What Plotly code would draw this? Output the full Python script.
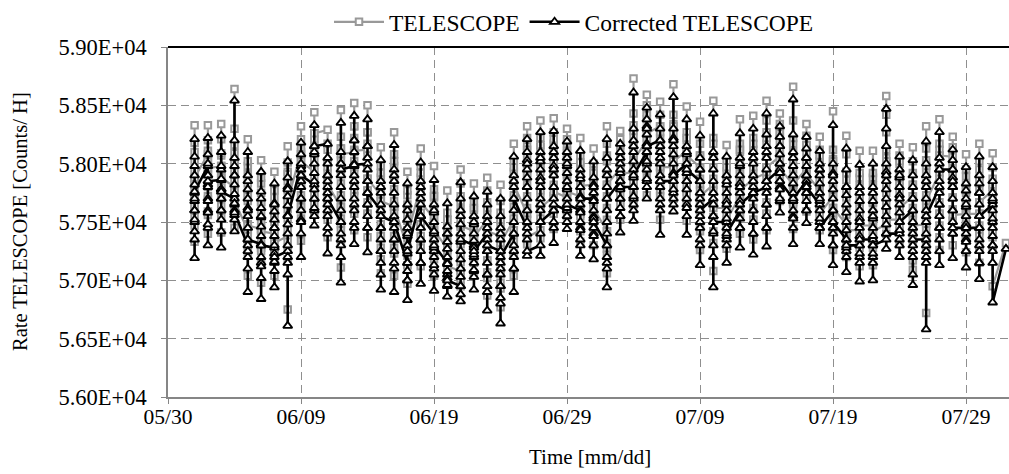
import plotly.graph_objects as go
import pandas as pd

# ---- data: hourly readings grouped per day (Excel-style date axis puts all hours of a day on that day) ----
DAYS = [d.strftime("%Y-%m-%d") for d in pd.date_range("2024-06-01", "2024-08-01")]

TELESCOPE = [
    [57870, 57800, 57720, 57620, 57540, 57330, 57470, 57640, 57720, 57820, 57940, 58020, 58180, 58330, 58100, 57880],
    [58080, 58010, 57930, 57820, 57720, 57560, 57400, 57590, 57690, 57800, 57910, 58020, 58200, 58330, 58110, 57960],
    [57980, 57900, 57810, 57720, 57640, 57410, 57540, 57710, 57800, 57890, 57980, 58070, 58210, 58340, 58090, 57880],
    [57800, 57750, 57700, 57610, 57450, 57660, 57760, 57850, 57930, 58010, 58090, 58160, 58640, 58300, 58000, 57680],
    [57430, 57330, 57040, 57240, 57380, 57480, 57580, 57680, 57750, 57830, 57910, 57980, 58210, 58020, 57720, 57470],
    [57440, 57280, 56980, 57150, 57250, 57330, 57430, 57510, 57590, 57670, 57750, 57830, 58030, 57880, 57670, 57420],
    [57400, 57270, 57040, 57190, 57270, 57350, 57420, 57500, 57570, 57640, 57710, 57780, 57930, 57770, 57570, 57320],
    [57380, 57280, 57180, 56750, 57330, 57430, 57530, 57610, 57690, 57770, 57850, 57930, 58010, 58150, 57910, 57680],
    [58100, 57970, 57820, 57640, 57340, 57530, 57630, 57730, 57830, 57930, 58030, 58130, 58210, 58320, 58080, 58020],
    [57930, 57810, 57710, 57580, 57660, 57730, 57810, 57890, 57960, 58030, 58110, 58190, 58260, 58440, 58210, 58260],
    [58290, 58120, 58020, 57920, 57820, 57720, 57520, 57370, 57570, 57670, 57770, 57870, 57970, 58170, 58020, 57820],
    [57630, 57480, 57330, 57110, 57430, 57530, 57630, 57730, 57830, 57930, 58030, 58130, 58230, 58460, 58130, 58080],
    [58100, 57970, 57770, 57570, 57430, 57620, 57720, 57820, 57920, 58020, 58120, 58220, 58320, 58520, 58320, 58110],
    [58120, 57970, 57770, 57570, 57370, 57570, 57670, 57770, 57870, 57970, 58070, 58170, 58270, 58500, 58270, 57870],
    [57730, 57580, 57380, 57180, 57060, 57280, 57380, 57480, 57580, 57680, 57780, 57880, 57980, 58140, 57920, 57680],
    [57630, 57480, 57280, 57040, 57230, 57380, 57480, 57580, 57680, 57780, 57880, 57980, 58080, 58270, 58020, 57630],
    [57280, 57130, 56970, 57130, 57210, 57280, 57360, 57430, 57510, 57580, 57650, 57730, 57930, 57770, 57520, 57380],
    [57820, 57670, 57470, 57280, 57120, 57280, 57380, 57480, 57580, 57680, 57780, 57880, 57980, 58130, 57920, 57670],
    [57530, 57380, 57230, 57040, 57180, 57260, 57330, 57410, 57480, 57550, 57630, 57710, 57780, 57980, 57720, 57430],
    [57270, 57170, 57070, 56980, 57080, 57140, 57200, 57260, 57320, 57390, 57450, 57520, 57580, 57770, 57520, 57120],
    [57080, 57010, 56950, 57080, 57160, 57230, 57310, 57380, 57460, 57530, 57610, 57680, 57830, 57950, 57720, 57470],
    [57420, 57320, 57200, 57040, 57150, 57210, 57270, 57340, 57400, 57460, 57520, 57600, 57670, 57830, 57620, 57370],
    [57520, 57370, 57170, 57020, 56870, 57070, 57170, 57270, 57370, 57470, 57570, 57670, 57770, 57880, 57620, 57420],
    [57380, 57230, 57080, 56930, 56770, 56980, 57080, 57180, 57280, 57380, 57480, 57580, 57680, 57820, 57520, 57320],
    [57520, 57370, 57220, 57040, 57230, 57330, 57430, 57530, 57630, 57730, 57830, 57930, 58020, 58170, 57970, 57820],
    [57570, 57470, 57310, 57520, 57620, 57720, 57820, 57920, 58000, 58070, 58150, 58220, 58320, 58120, 57920, 57370],
    [57430, 57360, 57530, 57630, 57730, 57830, 57930, 58000, 58070, 58140, 58220, 58370, 58160, 57960, 57770, 57620],
    [57720, 57570, 57440, 57620, 57720, 57820, 57920, 58020, 58100, 58170, 58270, 58390, 58210, 58060, 57910, 57760],
    [57710, 57610, 57550, 57660, 57730, 57810, 57890, 57960, 58030, 58090, 58160, 58210, 58300, 58110, 57910, 57760],
    [57720, 57570, 57420, 57330, 57470, 57550, 57620, 57700, 57770, 57840, 57920, 57990, 58070, 58220, 58010, 57810],
    [57820, 57670, 57520, 57300, 57420, 57500, 57570, 57650, 57720, 57800, 57870, 57940, 58000, 58130, 57920, 57620],
    [57420, 57270, 57060, 57220, 57320, 57420, 57520, 57620, 57720, 57820, 57920, 58020, 58170, 58320, 58070, 57820],
    [57960, 57810, 57660, 57520, 57660, 57730, 57810, 57890, 57960, 58030, 58110, 58160, 58210, 58280, 58060, 57910],
    [57930, 57830, 57730, 57650, 57780, 57850, 57930, 58010, 58080, 58150, 58230, 58330, 58430, 58730, 58280, 58030],
    [58200, 58100, 57950, 57730, 57880, 57960, 58050, 58130, 58220, 58300, 58380, 58440, 58500, 58590, 58420, 58260],
    [58320, 58170, 57970, 57770, 57520, 57720, 57820, 57920, 58020, 58120, 58220, 58320, 58420, 58530, 58270, 57970],
    [57970, 57870, 57770, 57700, 57820, 57900, 57970, 58040, 58120, 58200, 58270, 58340, 58420, 58680, 58320, 58020],
    [58110, 57960, 57760, 57510, 57670, 57740, 57820, 57900, 57970, 58040, 58120, 58200, 58270, 58490, 58220, 58070],
    [57970, 57820, 57620, 57420, 57260, 57470, 57570, 57670, 57770, 57870, 57970, 58070, 58170, 58360, 58070, 57720],
    [57820, 57670, 57520, 57320, 57080, 57420, 57540, 57670, 57770, 57870, 57970, 58070, 58220, 58540, 58170, 57620],
    [57620, 57470, 57270, 57420, 57500, 57570, 57650, 57720, 57800, 57870, 57940, 58020, 58160, 57970, 57770, 57520],
    [57720, 57570, 57400, 57570, 57650, 57720, 57800, 57870, 57950, 58020, 58100, 58170, 58380, 58120, 57920, 57770],
    [57870, 57720, 57520, 57350, 57520, 57620, 57720, 57820, 57920, 58020, 58120, 58220, 58410, 58170, 57970, 57870],
    [57920, 57770, 57570, 57430, 57570, 57670, 57770, 57870, 57970, 58070, 58170, 58270, 58370, 58540, 58220, 57970],
    [58060, 57910, 57790, 57680, 57810, 57890, 57960, 58030, 58110, 58190, 58260, 58340, 58430, 58260, 58110, 57960],
    [57820, 57670, 57440, 57570, 57650, 57720, 57800, 57870, 57950, 58020, 58100, 58170, 58370, 58660, 58220, 57820],
    [57960, 57860, 57710, 57590, 57710, 57790, 57860, 57930, 58010, 58090, 58160, 58240, 58340, 58160, 58010, 57910],
    [57770, 57620, 57430, 57570, 57650, 57720, 57800, 57870, 57950, 58020, 58070, 58120, 58230, 58070, 57820, 57570],
    [57720, 57570, 57420, 57260, 57420, 57520, 57620, 57720, 57820, 57900, 57970, 58040, 58120, 58450, 58020, 57620],
    [57480, 57380, 57200, 57330, 57410, 57480, 57560, 57630, 57710, 57780, 57860, 57930, 58080, 58240, 57920, 57430],
    [57430, 57330, 57120, 57280, 57360, 57430, 57510, 57580, 57660, 57730, 57810, 57880, 58110, 57920, 57620, 57470],
    [57470, 57320, 57130, 57280, 57360, 57430, 57510, 57580, 57660, 57730, 57810, 57880, 58110, 57920, 57670, 57420],
    [57480, 57400, 57520, 57600, 57670, 57750, 57820, 57900, 57970, 58050, 58120, 58270, 58420, 58580, 58020, 57520],
    [57520, 57420, 57310, 57470, 57550, 57620, 57700, 57770, 57850, 57920, 58000, 58070, 58170, 58020, 57820, 57620],
    [57720, 57570, 57370, 57170, 57090, 57320, 57420, 57520, 57620, 57720, 57820, 57920, 58020, 58140, 57820, 57470],
    [57480, 57380, 57280, 56720, 57330, 57430, 57530, 57630, 57730, 57830, 57930, 58030, 58130, 58320, 57980, 57680],
    [57920, 57770, 57570, 57370, 57260, 57470, 57570, 57670, 57770, 57870, 57970, 58070, 58170, 58380, 58120, 58070],
    [58060, 57910, 57710, 57510, 57300, 57510, 57610, 57710, 57810, 57910, 57990, 58060, 58140, 58230, 57960, 57560],
    [57570, 57470, 57370, 57240, 57370, 57450, 57520, 57600, 57670, 57750, 57820, 57890, 57950, 58080, 57770, 57570],
    [57570, 57420, 57270, 57150, 57280, 57380, 57470, 57570, 57670, 57770, 57870, 57950, 58020, 58170, 57870, 57670],
    [57770, 57620, 57420, 57270, 57420, 57500, 57570, 57650, 57720, 57800, 57870, 57970, 58090, 57820, 57370, 56950],
    [57320],
]

CORRECTED = [
    [57750, 57680, 57600, 57500, 57420, 57190, 57350, 57520, 57600, 57700, 57820, 57900, 58060, 58210, 57980, 57760],
    [57980, 57900, 57820, 57700, 57600, 57450, 57300, 57480, 57580, 57680, 57800, 57900, 58080, 58220, 58000, 57850],
    [57860, 57780, 57700, 57600, 57520, 57280, 57420, 57600, 57700, 57780, 57870, 57950, 58100, 58240, 57980, 57760],
    [57700, 57650, 57600, 57520, 57420, 57560, 57660, 57740, 57820, 57900, 57980, 58050, 58540, 58200, 57900, 57580],
    [57300, 57200, 56900, 57100, 57250, 57350, 57450, 57550, 57620, 57700, 57780, 57850, 58100, 57900, 57600, 57350],
    [57310, 57150, 56840, 57020, 57120, 57200, 57300, 57380, 57460, 57540, 57620, 57700, 57930, 57760, 57550, 57300],
    [57280, 57150, 56940, 57080, 57160, 57230, 57300, 57380, 57450, 57520, 57590, 57660, 57830, 57650, 57450, 57200],
    [57250, 57150, 57050, 56610, 57200, 57300, 57400, 57480, 57560, 57640, 57720, 57800, 57880, 58020, 57780, 57550],
    [57980, 57850, 57700, 57520, 57200, 57400, 57500, 57600, 57700, 57800, 57900, 58000, 58080, 58180, 57950, 57900],
    [57820, 57700, 57600, 57470, 57550, 57620, 57700, 57780, 57850, 57920, 58000, 58080, 58150, 58330, 58100, 58150],
    [58170, 58000, 57900, 57800, 57700, 57600, 57400, 57230, 57450, 57550, 57650, 57750, 57850, 58050, 57900, 57700],
    [57500, 57350, 57200, 56980, 57300, 57400, 57500, 57600, 57700, 57800, 57900, 58000, 58100, 58350, 58000, 57950],
    [57980, 57850, 57650, 57450, 57310, 57500, 57600, 57700, 57800, 57900, 58000, 58100, 58200, 58410, 58200, 57990],
    [58000, 57850, 57650, 57450, 57240, 57450, 57550, 57650, 57750, 57850, 57950, 58050, 58150, 58380, 58150, 57750],
    [57600, 57450, 57250, 57050, 56920, 57150, 57250, 57350, 57450, 57550, 57650, 57750, 57850, 58030, 57800, 57550],
    [57500, 57350, 57150, 56900, 57100, 57250, 57350, 57450, 57550, 57650, 57750, 57850, 57950, 58160, 57900, 57500],
    [57150, 57000, 56830, 57000, 57080, 57150, 57230, 57300, 57380, 57450, 57520, 57600, 57830, 57650, 57400, 57250],
    [57700, 57550, 57350, 57150, 56970, 57150, 57250, 57350, 57450, 57550, 57650, 57750, 57850, 58010, 57800, 57550],
    [57400, 57250, 57100, 56910, 57050, 57130, 57200, 57280, 57350, 57420, 57500, 57580, 57650, 57860, 57600, 57300],
    [57150, 57050, 56950, 56860, 56960, 57020, 57080, 57140, 57200, 57270, 57330, 57400, 57460, 57660, 57400, 57000],
    [56950, 56880, 56820, 56950, 57030, 57100, 57180, 57250, 57330, 57400, 57480, 57550, 57700, 57840, 57600, 57350],
    [57300, 57200, 57080, 56920, 57030, 57090, 57150, 57220, 57280, 57340, 57400, 57480, 57550, 57720, 57500, 57250],
    [57400, 57250, 57050, 56900, 56740, 56950, 57050, 57150, 57250, 57350, 57450, 57550, 57650, 57760, 57500, 57300],
    [57250, 57100, 56950, 56800, 56630, 56850, 56950, 57050, 57150, 57250, 57350, 57450, 57550, 57700, 57400, 57200],
    [57400, 57250, 57100, 56900, 57100, 57200, 57300, 57400, 57500, 57600, 57700, 57800, 57900, 58060, 57850, 57700],
    [57450, 57350, 57210, 57400, 57500, 57600, 57700, 57800, 57880, 57950, 58030, 58100, 58210, 58000, 57800, 57250],
    [57300, 57210, 57400, 57500, 57600, 57700, 57800, 57880, 57950, 58020, 58100, 58270, 58050, 57850, 57650, 57500],
    [57600, 57450, 57320, 57500, 57600, 57700, 57800, 57900, 57980, 58050, 58150, 58280, 58100, 57950, 57800, 57650],
    [57600, 57500, 57440, 57550, 57620, 57700, 57780, 57850, 57920, 57980, 58050, 58100, 58190, 58000, 57800, 57650],
    [57600, 57450, 57300, 57210, 57350, 57430, 57500, 57580, 57650, 57720, 57800, 57870, 57950, 58110, 57900, 57700],
    [57700, 57550, 57400, 57180, 57300, 57380, 57450, 57530, 57600, 57680, 57750, 57820, 57880, 58020, 57800, 57500],
    [57300, 57150, 56940, 57100, 57200, 57300, 57400, 57500, 57600, 57700, 57800, 57900, 58050, 58210, 57950, 57700],
    [57850, 57700, 57550, 57410, 57550, 57620, 57700, 57780, 57850, 57920, 58000, 58050, 58100, 58170, 57950, 57800],
    [57800, 57700, 57600, 57510, 57650, 57720, 57800, 57880, 57950, 58020, 58100, 58200, 58300, 58610, 58150, 57900],
    [58100, 58000, 57850, 57700, 57800, 57870, 57950, 58020, 58100, 58170, 58250, 58320, 58380, 58480, 58300, 58150],
    [58200, 58050, 57850, 57650, 57390, 57600, 57700, 57800, 57900, 58000, 58100, 58200, 58300, 58420, 58150, 57850],
    [57850, 57750, 57650, 57590, 57700, 57780, 57850, 57920, 58000, 58080, 58150, 58220, 58300, 58570, 58200, 57900],
    [58000, 57850, 57650, 57390, 57550, 57620, 57700, 57780, 57850, 57920, 58000, 58080, 58150, 58380, 58100, 57950],
    [57850, 57700, 57500, 57300, 57130, 57350, 57450, 57550, 57650, 57750, 57850, 57950, 58050, 58240, 57950, 57600],
    [57700, 57550, 57400, 57200, 56940, 57300, 57420, 57550, 57650, 57750, 57850, 57950, 58100, 58430, 58050, 57500],
    [57500, 57350, 57150, 57300, 57380, 57450, 57530, 57600, 57680, 57750, 57820, 57900, 58060, 57850, 57650, 57400],
    [57600, 57450, 57280, 57450, 57530, 57600, 57680, 57750, 57830, 57900, 57980, 58050, 58260, 58000, 57800, 57650],
    [57750, 57600, 57400, 57220, 57400, 57500, 57600, 57700, 57800, 57900, 58000, 58100, 58300, 58050, 57850, 57750],
    [57800, 57650, 57450, 57290, 57450, 57550, 57650, 57750, 57850, 57950, 58050, 58150, 58250, 58430, 58100, 57850],
    [57950, 57800, 57680, 57580, 57700, 57780, 57850, 57920, 58000, 58080, 58150, 58230, 58320, 58150, 58000, 57850],
    [57700, 57550, 57310, 57450, 57530, 57600, 57680, 57750, 57830, 57900, 57980, 58050, 58250, 58550, 58100, 57700],
    [57850, 57750, 57600, 57490, 57600, 57680, 57750, 57820, 57900, 57980, 58050, 58130, 58230, 58050, 57900, 57800],
    [57650, 57500, 57310, 57450, 57530, 57600, 57680, 57750, 57830, 57900, 57950, 58000, 58110, 57950, 57700, 57450],
    [57600, 57450, 57300, 57130, 57300, 57400, 57500, 57600, 57700, 57780, 57850, 57920, 58000, 58330, 57900, 57500],
    [57350, 57250, 57070, 57200, 57280, 57350, 57430, 57500, 57580, 57650, 57730, 57800, 57950, 58130, 57800, 57300],
    [57300, 57200, 56990, 57150, 57230, 57300, 57380, 57450, 57530, 57600, 57680, 57750, 57990, 57800, 57500, 57350],
    [57350, 57200, 57000, 57150, 57230, 57300, 57380, 57450, 57530, 57600, 57680, 57750, 58000, 57800, 57550, 57300],
    [57350, 57270, 57400, 57480, 57550, 57630, 57700, 57780, 57850, 57930, 58000, 58150, 58300, 58470, 57900, 57400],
    [57400, 57300, 57200, 57350, 57430, 57500, 57580, 57650, 57730, 57800, 57880, 57950, 58060, 57900, 57700, 57500],
    [57600, 57450, 57250, 57050, 56960, 57200, 57300, 57400, 57500, 57600, 57700, 57800, 57900, 58030, 57700, 57350],
    [57350, 57250, 57150, 56580, 57200, 57300, 57400, 57500, 57600, 57700, 57800, 57900, 58000, 58190, 57850, 57550],
    [57800, 57650, 57450, 57250, 57130, 57350, 57450, 57550, 57650, 57750, 57850, 57950, 58050, 58270, 58000, 57950],
    [57950, 57800, 57600, 57400, 57190, 57400, 57500, 57600, 57700, 57800, 57880, 57950, 58030, 58120, 57850, 57450],
    [57450, 57350, 57250, 57110, 57250, 57330, 57400, 57480, 57550, 57630, 57700, 57770, 57830, 57970, 57650, 57450],
    [57450, 57300, 57150, 57010, 57150, 57250, 57350, 57450, 57550, 57650, 57750, 57830, 57900, 58060, 57750, 57550],
    [57650, 57500, 57300, 57150, 57300, 57380, 57450, 57530, 57600, 57680, 57750, 57850, 57970, 57700, 57250, 56810],
    [57270],
]

Y_TICKS = [56000, 56500, 57000, 57500, 58000, 58500, 59000]
X_TICKS = ["2024-05-30", "2024-06-09", "2024-06-19", "2024-06-29",
           "2024-07-09", "2024-07-19", "2024-07-29"]


def flatten(series):
    xs, ys = [], []
    for day, vals in zip(DAYS, series):
        for v in vals:
            xs.append(day)
            ys.append(v)
    return xs, ys


FONT = "Liberation Serif"
GRID = "#8f8f8f"
AXIS = "#868686"

tx, ty = flatten(TELESCOPE)
cx, cy = flatten(CORRECTED)

fig = go.Figure()
fig.add_trace(go.Scatter(
    x=tx, y=ty, name="TELESCOPE", mode="lines+markers",
    line=dict(color="#999999", width=2.2),
    marker=dict(symbol="square", size=6.5, color="white",
                line=dict(color="#999999", width=2)),
    cliponaxis=False,
))
fig.add_trace(go.Scatter(
    x=cx, y=cy, name="Corrected TELESCOPE", mode="lines+markers",
    line=dict(color="black", width=2.6),
    marker=dict(symbol="triangle-up", size=8, color="white",
                line=dict(color="black", width=1.8)),
    cliponaxis=False,
))

fig.update_layout(
    width=1009, height=474,
    margin=dict(l=168, r=0, t=38, b=77),
    paper_bgcolor="white", plot_bgcolor="white",
    font=dict(family=FONT, size=21, color="black"),
    showlegend=True,
    legend=dict(orientation="h", x=(574 - 168) / 841, xanchor="center",
                y=1 + (38 - 12) / 359, yanchor="middle",
                font=dict(family=FONT, size=23.5, color="black"),
                bgcolor="rgba(0,0,0,0)", itemwidth=50,
                tracegroupgap=0),
    xaxis=dict(
        type="date",
        range=["2024-05-30", "2024-08-01 05:30"],
        tickvals=X_TICKS,
        ticktext=[pd.Timestamp(t).strftime("%m/%d") for t in X_TICKS],
        showgrid=True, gridcolor=GRID, gridwidth=1.4, griddash="8px,5px",
        showline=True, linecolor=AXIS, linewidth=1.5,
        ticks="outside", ticklen=5, tickcolor=AXIS, tickwidth=1.2,
        tickfont=dict(family=FONT, size=21.5, color="black"),
        ticklabelstandoff=-6,
        zeroline=False,
    ),
    yaxis=dict(
        range=[56000, 59000],
        tickvals=Y_TICKS,
        ticktext=[f"{v:.2E}" for v in Y_TICKS],
        showgrid=True, gridcolor=GRID, gridwidth=1.4, griddash="8px,5px",
        showline=True, linecolor=AXIS, linewidth=1.5,
        ticks="outside", ticklen=5, tickcolor=AXIS, tickwidth=1.2,
        tickfont=dict(family=FONT, size=22.5, color="black"),
        ticklabelstandoff=10,
        zeroline=False,
    ),
    shapes=[dict(type="line", xref="paper", yref="paper", x0=0, x1=1, y0=1, y1=1,
                 line=dict(color="black", width=2.2))],
    annotations=[
        dict(text="Rate TELESCOPE [Counts/ H]", xref="paper", yref="paper",
             x=(20 - 168) / 841, y=0.5, xanchor="center", yanchor="middle",
             textangle=-90, showarrow=False,
             font=dict(family=FONT, size=20.5, color="black")),
        dict(text="Time [mm/dd]", xref="paper", yref="paper",
             x=(590 - 168) / 841, y=-(459 - 397) / 359, xanchor="center", yanchor="middle",
             showarrow=False, font=dict(family=FONT, size=21, color="black")),
    ],
)

fig.write_html("out.html")
